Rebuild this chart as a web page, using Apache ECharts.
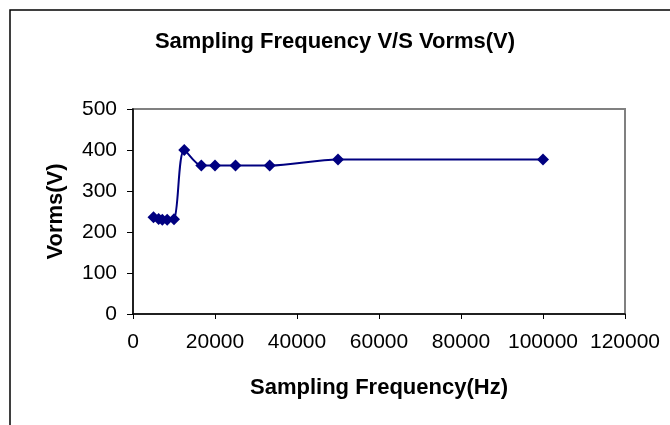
<!DOCTYPE html>
<html>
<head>
<meta charset="utf-8">
<title>Sampling Frequency V/S Vorms(V)</title>
<script src="https://cdn.jsdelivr.net/npm/echarts@6/dist/echarts.min.js"></script>
<style>
  html, body { margin: 0; padding: 0; background: #fff; }
  #main { width: 670px; height: 425px; }
</style>
</head>
<body>
<div id="main"></div>
<script>
// sampling frequency (Hz) and measured Vorms (V)
var freq = [5000, 6250, 7143, 8333, 10000, 12500, 16667, 20000, 25000, 33333, 50000, 100000];
var vorms = [236, 232, 230, 230, 231, 400, 362, 362, 362, 362, 377, 377];
var xTicks = [0, 20000, 40000, 60000, 80000, 100000, 120000];
var yTicks = [0, 100, 200, 300, 400, 500];

var font = 'Liberation Sans, Arial, sans-serif';

var points = [];
freq.forEach(function (f, i) {
    points.push([f, vorms[i]]);
});

var chart = echarts.init(document.getElementById('main'));
var option = {
    animation: false,
    backgroundColor: '#fff',
    title: {
        text: 'Sampling Frequency V/S Vorms(V)',
        left: 'center',
        top: 26,
        textStyle: { fontFamily: font, fontSize: 22, fontWeight: 'bold', color: '#000' }
    },
    grid: {
        left: 133, right: 45, top: 109, bottom: 111,
        show: true, borderColor: '#808080', borderWidth: 2
    },
    xAxis: {
        type: 'value',
        min: xTicks[0],
        max: xTicks[xTicks.length - 1],
        interval: 20000,
        name: 'Sampling Frequency(Hz)',
        nameLocation: 'middle',
        nameGap: 63,
        nameTextStyle: { fontFamily: font, fontSize: 22, fontWeight: 'bold', color: '#000' },
        splitLine: { show: false },
        axisLine: { lineStyle: { color: '#000', width: 1.5 } },
        axisTick: { length: 5, lineStyle: { color: '#000' } },
        axisLabel: {
            margin: 18, fontFamily: font, fontSize: 21, color: '#000',
            formatter: function (v) { return String(v); }
        }
    },
    yAxis: {
        type: 'value',
        min: yTicks[0],
        max: yTicks[yTicks.length - 1],
        interval: 100,
        name: 'Vorms(V)',
        nameLocation: 'middle',
        nameGap: 66,
        nameTextStyle: { fontFamily: font, fontSize: 22, fontWeight: 'bold', color: '#000' },
        splitLine: { show: false },
        axisLine: { show: true, lineStyle: { color: '#000', width: 1.5 } },
        axisTick: { show: true, length: 6, lineStyle: { color: '#000' } },
        axisLabel: { margin: 16, fontFamily: font, fontSize: 21, color: '#000' }
    },
    graphic: [
        {
            type: 'rect',
            shape: { x: 10, y: 10, width: 700, height: 500 },
            style: { fill: 'none', stroke: '#000', lineWidth: 1.5 },
            silent: true
        }
    ],
    series: [{
        type: 'line',
        data: points,
        smooth: 0.3,
        symbol: 'diamond',
        symbolSize: 12,
        lineStyle: { color: '#000080', width: 2 },
        itemStyle: { color: '#000080' }
    }]
};
chart.setOption(option);
</script>
</body>
</html>
